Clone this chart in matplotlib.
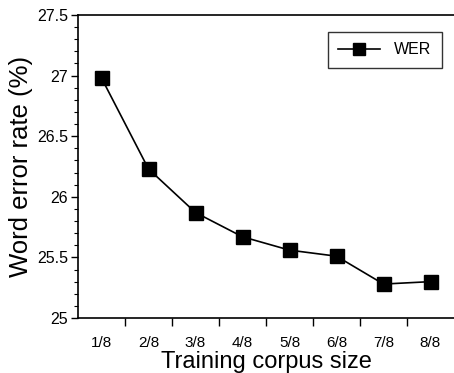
import matplotlib
matplotlib.use('Agg')
import matplotlib.pyplot as plt
from matplotlib.ticker import MultipleLocator

plt.rcParams['font.family'] = ['Liberation Sans', 'DejaVu Sans']

sizes = ['1/8', '2/8', '3/8', '4/8', '5/8', '6/8', '7/8', '8/8']
wer = [26.98, 26.23, 25.87, 25.67, 25.56, 25.51, 25.28, 25.30]

fig = plt.figure(figsize=(4.54, 3.73), dpi=100)
ax = fig.add_axes([78 / 454, 55 / 373, 376 / 454, 303 / 373])

pos = list(range(1, len(sizes) + 1))
ax.plot(pos, wer, color='black', lw=1.2, marker='s', ms=9.5,
        mfc='black', mec='black', label='WER')

ax.set_xlim(0.5, 8.5)
ax.set_ylim(25, 27.5)
ax.set_xticks(pos)
ax.set_xticklabels(sizes)
ax.set_xticks([p + 0.5 for p in pos[:-1]], minor=True)
ax.tick_params(axis='x', which='major', length=0, pad=13, labelsize=11)
ax.tick_params(axis='x', which='minor', length=6, width=1)
ax.set_yticks([25, 25.5, 26, 26.5, 27, 27.5])
ax.set_yticklabels(['25', '25.5', '26', '26.5', '27', '27.5'])
ax.yaxis.set_minor_locator(MultipleLocator(0.1))
ax.tick_params(axis='y', which='major', length=5, width=1, labelsize=11.5, pad=2)
ax.tick_params(axis='y', which='minor', length=3, width=0.8)
ax.spines['right'].set_visible(False)
for s in ['left', 'bottom', 'top']:
    ax.spines[s].set_linewidth(1.2)

ax.set_xlabel('Training corpus size', fontsize=17, labelpad=1)
ax.set_ylabel('Word error rate (%)', fontsize=18.5, labelpad=3)

leg = ax.legend(loc='upper right', bbox_to_anchor=(0.968, 0.944), fancybox=False,
                edgecolor='black', fontsize=11.5, handlelength=2.6,
                borderpad=0.65, borderaxespad=0, handletextpad=0.9,
                markerscale=0.85)
leg.get_frame().set_linewidth(1.0)

fig.savefig('out.png', dpi=100)
